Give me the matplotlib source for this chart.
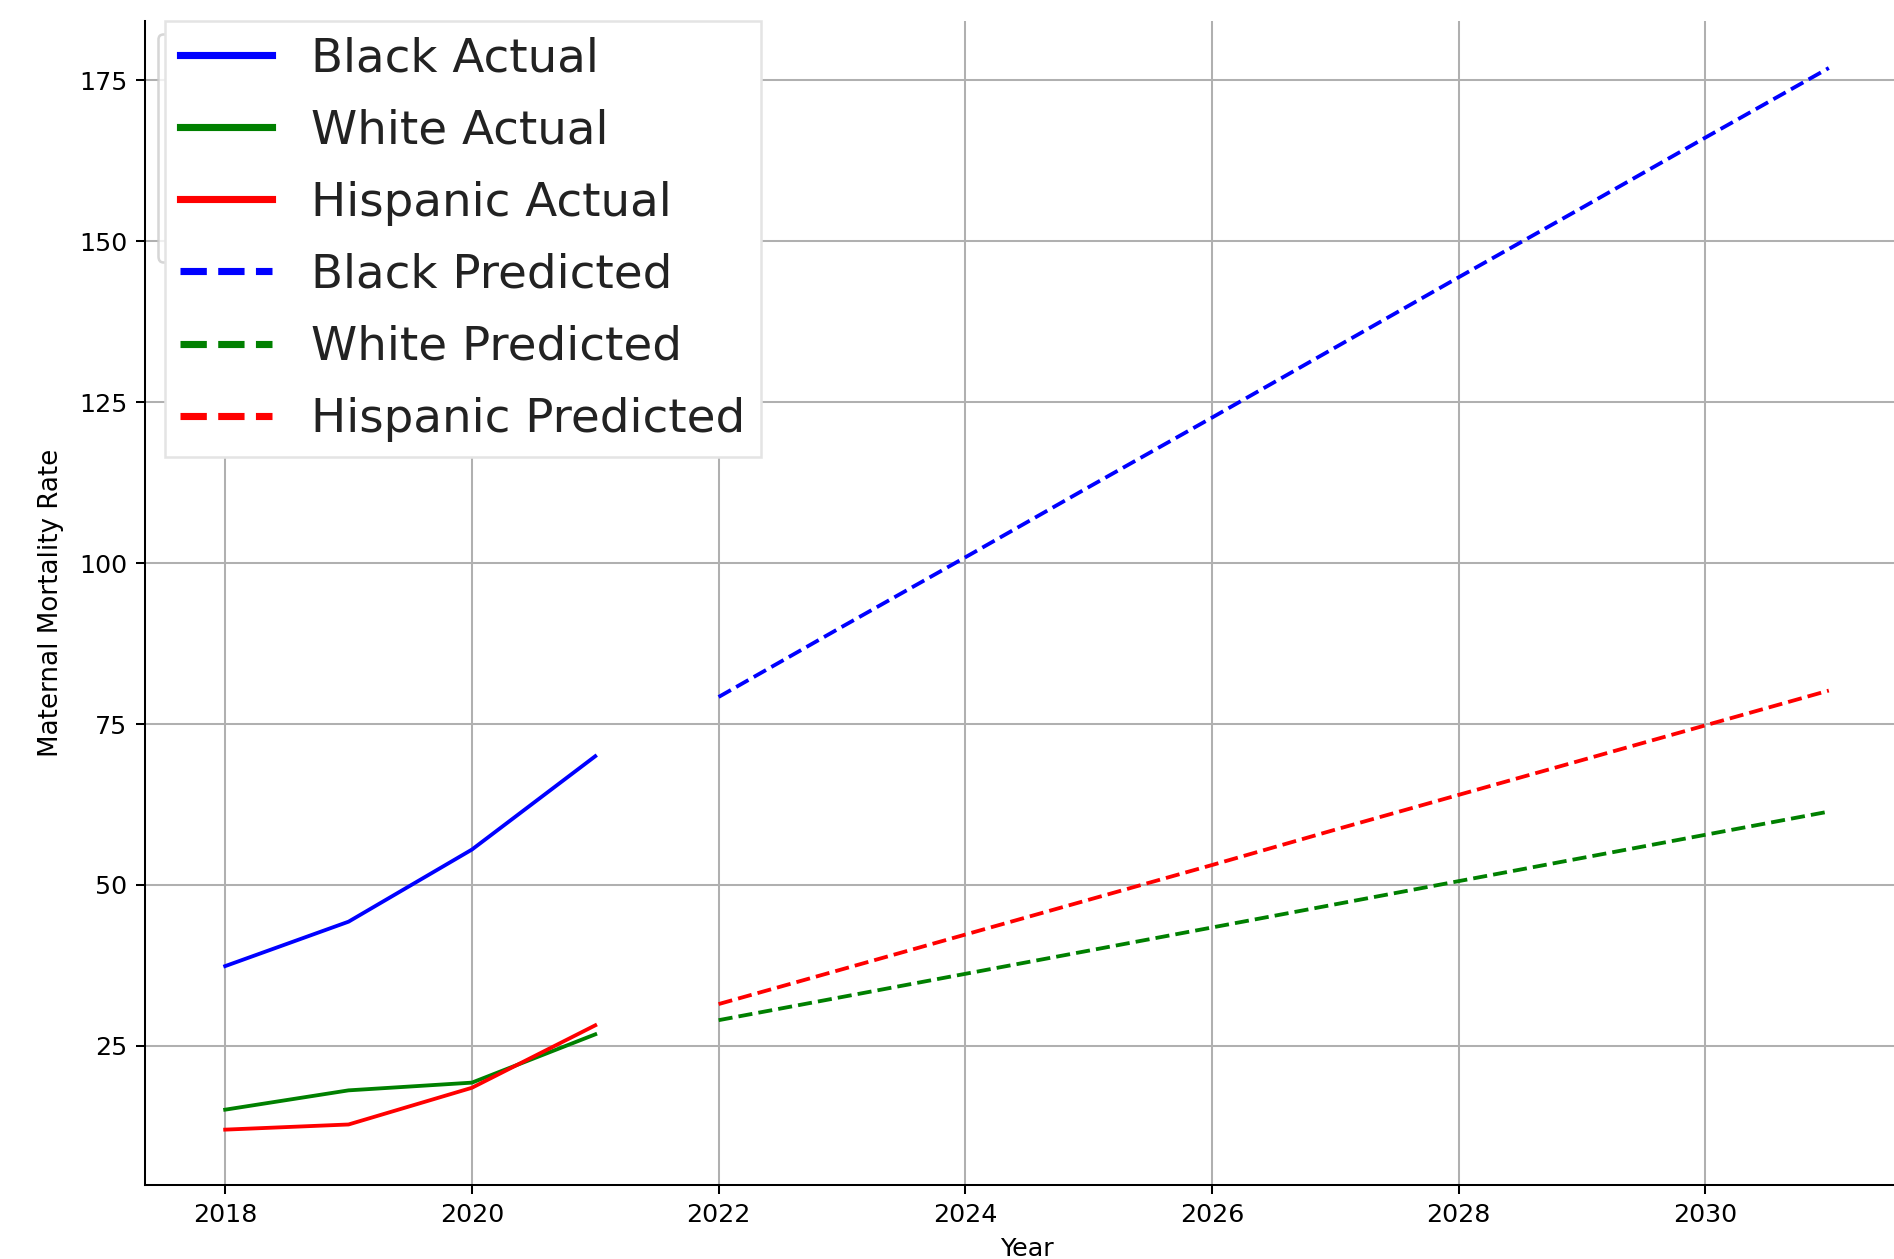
import matplotlib
matplotlib.use("Agg")
import matplotlib.pyplot as plt
from matplotlib.lines import Line2D

# Observed maternal mortality rates (deaths per 100k live births)
years_actual = [2018, 2019, 2020, 2021]
black_actual = [37.4, 44.3, 55.5, 70.0]
white_actual = [15.1, 18.1, 19.3, 26.8]
hispanic_actual = [12.0, 12.8, 18.5, 28.2]

# Projected rates
years_pred = [2022, 2023, 2024, 2025, 2026, 2027, 2028, 2029, 2030, 2031]
black_pred = [79.2, 90.1, 100.9, 111.8, 122.6, 133.5, 144.4, 155.2, 166.1, 176.9]
white_pred = [29.0, 32.6, 36.2, 39.8, 43.4, 47.0, 50.6, 54.2, 57.8, 61.4]
hispanic_pred = [31.5, 36.9, 42.3, 47.7, 53.1, 58.6, 64.0, 69.4, 74.8, 80.2]

labels = ["Black Actual", "White Actual", "Hispanic Actual",
          "Black Predicted", "White Predicted", "Hispanic Predicted"]
colors = ["blue", "green", "red"]

DPI = 183
fig = plt.figure(figsize=(1894 / DPI, 1259 / DPI), dpi=DPI)
ax = fig.add_axes([145 / 1894, 74 / 1259, 1764 / 1894, 1164 / 1259])

for ys, c, lab in zip([black_actual, white_actual, hispanic_actual], colors, labels[:3]):
    ax.plot(years_actual, ys, color=c, linestyle="-", label=lab)
for ys, c, lab in zip([black_pred, white_pred, hispanic_pred], colors, labels[3:]):
    ax.plot(years_pred, ys, color=c, linestyle="--", label=lab)

ax.set_xlim(2017.35, 2031.65)
ax.set_ylim(3.4, 184.2)
ax.set_xlabel("Year")
ax.set_ylabel("Maternal Mortality Rate", fontsize=10.3, labelpad=6)
ax.grid(True)
ax.spines["top"].set_visible(False)
ax.spines["right"].set_visible(False)

# Default-sized legend, underneath the enlarged one
small = ax.legend(loc="upper left")
ax.add_artist(small)

# Enlarged legend on top
big_handles = [
    Line2D([], [], color=c, linestyle=ls, linewidth=2.8)
    for ls in ["-", "--"] for c in colors
]
big = ax.legend(big_handles, labels, loc="upper left",
                bbox_to_anchor=(0.0113, 1.0), borderaxespad=0,
                fontsize=18.4, labelspacing=0.58, borderpad=0.33,
                handlelength=1.95, handletextpad=0.85,
                fancybox=False, framealpha=1.0, edgecolor="#e4e4e4")
for t in big.get_texts():
    t.set_color("#222222")

fig.savefig("out.png", dpi=DPI)
